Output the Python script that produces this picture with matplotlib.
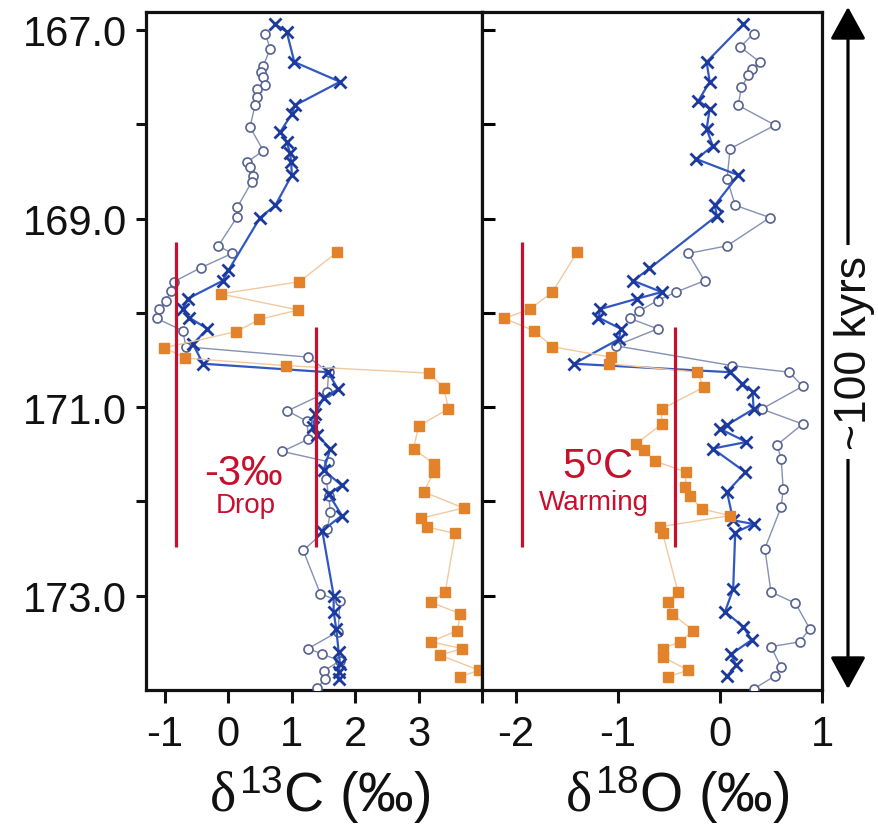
import matplotlib
matplotlib.use("Agg")
import matplotlib.pyplot as plt
from matplotlib.patches import FancyArrowPatch

plt.rcParams['font.family'] = ['Liberation Sans', 'DejaVu Sans']
plt.rcParams['axes.unicode_minus'] = False
plt.rcParams['mathtext.fontset'] = 'custom'
plt.rcParams['mathtext.rm'] = 'Liberation Sans'
plt.rcParams['mathtext.it'] = 'Liberation Serif'
plt.rcParams['mathtext.bf'] = 'Liberation Sans:bold'

# ---------------- data ----------------
# depth (m) and delta13C, open-circle record
c13_open_depth = [167.04, 167.20, 167.38, 167.45, 167.50, 167.58, 167.63, 167.71, 167.80, 168.03,
                  168.28, 168.40, 168.45, 168.55, 168.61, 168.88, 168.98, 169.29, 169.37, 169.52,
                  169.67, 169.77, 169.87, 169.96, 170.06, 170.19, 170.36, 170.47, 170.63, 170.84,
                  171.04, 171.15, 171.34, 171.47, 171.58, 171.76, 171.94, 172.11, 172.29, 172.52,
                  172.98, 173.06, 173.38, 173.56, 173.62, 173.69, 173.80, 173.88, 173.98]
c13_open = [0.58, 0.66, 0.55, 0.52, 0.55, 0.58, 0.45, 0.45, 0.42, 0.34,
            0.55, 0.30, 0.34, 0.39, 0.37, 0.14, 0.14, -0.16, 0.06, -0.43,
            -0.86, -0.91, -0.98, -1.09, -1.13, -0.72, -0.67, 1.26, 1.58, 1.56,
            0.93, 1.24, 1.26, 0.85, 1.58, 1.54, 1.58, 1.61, 1.56, 1.18,
            1.45, 1.76, 1.73, 1.26, 1.48, 1.76, 1.50, 1.53, 1.40]

# delta13C, cross record
c13_cross_depth = [166.94, 167.02, 167.34, 167.55, 167.80, 167.89, 168.08, 168.19, 168.30, 168.40,
                   168.54, 168.86, 168.99, 169.55, 169.66, 169.85, 169.96, 170.05, 170.17, 170.33,
                   170.54, 170.63, 170.81, 170.90, 171.07, 171.21, 171.30, 171.44, 171.67, 171.83,
                   171.92, 172.15, 172.31, 173.00, 173.17, 173.35, 173.60, 173.72, 173.81, 173.88]
c13_cross = [0.74, 0.92, 1.04, 1.76, 1.05, 1.00, 0.82, 0.92, 0.97, 0.99,
             1.00, 0.74, 0.50, 0.00, -0.09, -0.64, -0.72, -0.62, -0.33, -0.56,
             -0.40, 1.57, 1.73, 1.50, 1.37, 1.34, 1.40, 1.61, 1.50, 1.79,
             1.58, 1.79, 1.48, 1.66, 1.66, 1.70, 1.74, 1.76, 1.74, 1.74]

# delta13C, square record
c13_sq_depth = [169.36, 169.67, 169.80, 169.97, 170.07, 170.20, 170.37, 170.48, 170.56, 170.64,
                170.80, 171.02, 171.20, 171.44, 171.60, 171.69, 171.90, 172.07, 172.18, 172.27,
                172.34, 172.96, 173.07, 173.19, 173.37, 173.49, 173.56, 173.63, 173.79, 173.86]
c13_sq = [1.71, 1.12, -0.12, 1.10, 0.49, 0.12, -1.01, -0.68, 0.91, 3.17,
          3.40, 3.47, 3.00, 2.92, 3.24, 3.24, 3.08, 3.71, 3.03, 3.13,
          3.58, 3.42, 3.19, 3.66, 3.61, 3.19, 3.69, 3.34, 3.95, 3.66]

# delta18O, open-circle record
o18_open_depth = [167.04, 167.18, 167.34, 167.41, 167.48, 167.61, 167.80, 168.01, 168.26, 168.58,
                  168.86, 168.99, 169.29, 169.37, 169.66, 169.78, 169.87, 169.98, 170.06, 170.17,
                  170.35, 170.56, 170.63, 170.78, 171.02, 171.18, 171.40, 171.55, 171.87, 172.06,
                  172.50, 172.96, 173.08, 173.35, 173.49, 173.54, 173.76, 173.85, 173.99]
o18_open = [0.33, 0.20, 0.39, 0.31, 0.28, 0.21, 0.18, 0.54, 0.10, 0.07,
            0.15, 0.49, 0.07, -0.31, -0.15, -0.43, -0.61, -0.79, -0.88, -0.61,
            -1.02, 0.12, 0.68, 0.81, 0.41, 0.81, 0.56, 0.60, 0.62, 0.60,
            0.44, 0.50, 0.74, 0.88, 0.78, 0.50, 0.60, 0.54, 0.33]

# delta18O, cross record
o18_cross_depth = [166.94, 167.34, 167.55, 167.75, 167.84, 168.05, 168.23, 168.37, 168.54, 168.86,
                   168.97, 169.53, 169.66, 169.78, 169.85, 169.96, 170.05, 170.17, 170.28, 170.54,
                   170.63, 170.75, 170.84, 171.02, 171.19, 171.23, 171.37, 171.44, 171.69, 171.90,
                   172.20, 172.24, 172.33, 172.93, 173.17, 173.33, 173.47, 173.62, 173.74, 173.85]
o18_cross = [0.23, -0.13, -0.10, -0.21, -0.10, -0.13, -0.07, -0.23, 0.18, -0.05,
             -0.03, -0.69, -0.85, -0.57, -0.81, -1.17, -1.19, -0.97, -0.99, -1.43,
             0.10, 0.22, 0.32, 0.33, 0.07, 0.00, 0.26, -0.07, 0.25, 0.07,
             0.13, 0.33, 0.15, 0.13, 0.05, 0.23, 0.31, 0.11, 0.16, 0.07]

# delta18O, square record
o18_sq_depth = [169.36, 169.78, 169.96, 170.06, 170.19, 170.36, 170.47, 170.54, 170.63, 170.79,
                171.02, 171.18, 171.39, 171.46, 171.57, 171.69, 171.85, 171.94, 172.08, 172.15,
                172.27, 172.34, 172.96, 173.07, 173.19, 173.37, 173.49, 173.56, 173.65, 173.79,
                173.86]
o18_sq = [-1.40, -1.64, -1.86, -2.11, -1.82, -1.64, -1.07, -1.09, -0.22, -0.16,
          -0.57, -0.57, -0.82, -0.74, -0.64, -0.33, -0.34, -0.29, -0.18, 0.10,
          -0.59, -0.56, -0.41, -0.51, -0.47, -0.26, -0.39, -0.56, -0.56, -0.31,
          -0.51]

# excursion brackets: (x, top depth, bottom depth)
c13_brackets = [(-0.83, 169.25, 172.48), (1.38, 170.15, 172.48)]
o18_brackets = [(-1.94, 169.25, 172.48), (-0.44, 170.15, 172.48)]

depth_ticks = [167, 169, 171, 173]
depth_labels = ['167.0', '169.0', '171.0', '173.0']
depth_minor = [168, 170, 172]
c13_ticks = [-1, 0, 1, 2, 3, 4]
c13_labels = ['-1', '0', '1', '2', '3', '']
o18_ticks = [-2, -1, 0, 1]
o18_labels = ['-2', '-1', '0', '1']

# ---------------- figure ----------------
W, H = 879, 829
fig = plt.figure(figsize=(W / 100, H / 100), dpi=100)


def fx(px):
    return px / W


def fy(py):
    return 1 - py / H


top_px, bot_px = 13, 691
ax1 = fig.add_axes([fx(146), fy(bot_px), fx(482) - fx(146), fy(top_px) - fy(bot_px)])
ax2 = fig.add_axes([fx(482), fy(bot_px), fx(822) - fx(482), fy(top_px) - fy(bot_px)])

open_style = dict(marker='o', ms=6.5, mfc='white', mec='#56628f', mew=1.2,
                  color='#8590b5', lw=1.0, zorder=3)
cross_style = dict(marker='x', ms=8, mew=2.0, mec='#1c3a9e',
                   color='#3157c2', lw=1.6, zorder=4)
sq_style = dict(marker='s', ms=6.5, mfc='#e2822a', mec='#e2822a',
                color='#f2c99e', lw=1.0, zorder=5)
red = '#c8102e'

ax1.plot(c13_open, c13_open_depth, **open_style)
ax1.plot(c13_cross, c13_cross_depth, **cross_style)
ax1.plot(c13_sq, c13_sq_depth, **sq_style)

ax2.plot(o18_open, o18_open_depth, **open_style)
ax2.plot(o18_cross, o18_cross_depth, **cross_style)
ax2.plot(o18_sq, o18_sq_depth, **sq_style)

for x, d0, d1 in c13_brackets:
    ax1.plot([x, x], [d0, d1], color=red, lw=2.3, zorder=6, solid_capstyle='butt')
for x, d0, d1 in o18_brackets:
    ax2.plot([x, x], [d0, d1], color=red, lw=2.3, zorder=6, solid_capstyle='butt')

ax1.text(0.23, 171.70, '-3‰', color=red, fontsize=30, ha='center', va='center', zorder=7)
ax1.text(0.28, 172.04, 'Drop', color=red, fontsize=20, ha='center', va='center', zorder=7)
ax2.text(-1.20, 171.64, r'5$^{\mathrm{o}}$C', color=red, fontsize=30, ha='center', va='center', zorder=7)
ax2.text(-1.23, 172.01, 'Warming', color=red, fontsize=20, ha='center', va='center', zorder=7)

for ax in (ax1, ax2):
    ax.set_ylim(174.0, 166.81)
    for s in ax.spines.values():
        s.set_linewidth(2.3)
        s.set_color('#111111')
    ax.set_yticks(depth_ticks)
    ax.set_yticks(depth_minor, minor=True)
    ax.tick_params(axis='x', which='both', direction='out', length=9, width=2.2,
                   labelsize=30, pad=8, colors='#111111')

ax1.set_xlim(-1.3, 4.0)
ax2.set_xlim(-2.33, 1.0)
ax1.set_xticks(c13_ticks)
ax1.set_xticklabels(c13_labels)
ax2.set_xticks(o18_ticks)
ax2.set_xticklabels(o18_labels)

ax1.set_yticklabels(depth_labels)
ax1.tick_params(axis='y', which='both', direction='out', length=7.5, width=2.2,
                labelsize=30, pad=6, colors='#111111')
ax2.tick_params(axis='y', which='both', direction='in', length=9, width=2.2,
                labelleft=False)

fig.text(fx(320), fy(795), r'$\delta^{\mathrm{13}}$C (‰)', fontsize=40,
         ha='center', va='center', color='#111111')
fig.text(fx(677), fy(795), r'$\delta^{\mathrm{18}}$O (‰)', fontsize=40,
         ha='center', va='center', color='#111111')

# time-span arrow on the right
arrow = FancyArrowPatch((fx(848), fy(8)), (fx(848), fy(690)), transform=fig.transFigure,
                        arrowstyle='<|-|>,head_length=1.0,head_width=0.55',
                        mutation_scale=20, lw=2.3, color='black',
                        shrinkA=0, shrinkB=0, zorder=2)
fig.add_artist(arrow)
fig.text(fx(855), fy(353), '~100 kyrs', rotation=90, fontsize=32,
         ha='center', va='center', color='#111111', zorder=3,
         bbox=dict(fc='white', ec='none', pad=7))

fig.savefig('out.png', dpi=100)
